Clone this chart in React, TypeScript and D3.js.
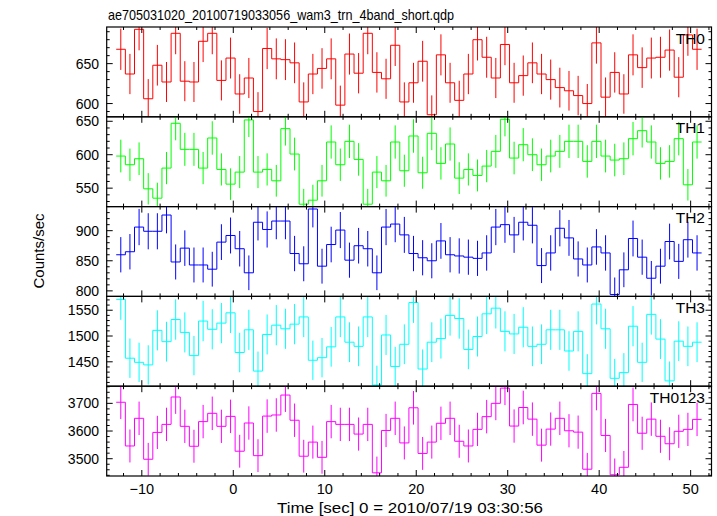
import React from "react";
import * as d3 from "d3";

const TITLE = "ae705031020_20100719033056_wam3_trn_4band_short.qdp";
const X_LABEL = "Time [sec] 0 = 2010/07/19 03:30:56";
const Y_LABEL = "Counts/sec";

const TIME_START = -12.8;
const BIN_WIDTH = 1;
const X_DOMAIN = [-13.84, 52.28];
const X_TICKS_MAJOR = [-10, 0, 10, 20, 30, 40, 50];

const BANDS = ["TH0", "TH1", "TH2", "TH3", "TH0123"];
const COLORS = ["#ff0000", "#00ff00", "#0000ff", "#00ffff", "#ff00ff"];

const TH0 = [668,637,693,606,648,627,688,628,627,678,688,629,657,612,632,590,669,656,655,651,602,637,644,656,598,662,638,688,639,631,673,602,
  626,653,586,661,626,604,637,680,658,632,674,626,635,651,637,630,620,616,610,600,676,608,639,612,661,645,657,658,667,633,686,668];
const TH1 = [598,585,594,549,535,580,647,608,608,580,625,578,556,574,652,574,578,561,639,601,526,532,561,619,585,620,593,526,574,561,619,576,
  628,573,632,587,616,565,578,569,583,605,653,595,615,600,585,598,605,620,620,590,620,598,592,594,624,636,619,587,590,624,555,619];
const TH2 = [860,865,906,899,899,926,848,871,843,843,836,881,892,870,830,914,902,916,916,862,845,936,841,877,901,851,875,870,830,906,911,893,
  862,855,850,883,860,858,856,854,863,906,910,893,914,909,842,863,904,888,853,843,873,863,794,835,887,856,821,841,882,849,885,863];
const TH3 = [1571,1457,1449,1444,1511,1489,1532,1507,1462,1529,1513,1525,1545,1468,1512,1432,1503,1521,1514,1523,1537,1453,1458,1479,1537,1488,1480,1537,1405,1502,1441,1484,
  1565,1436,1488,1495,1540,1534,1474,1499,1543,1554,1509,1504,1517,1480,1484,1512,1512,1471,1509,1427,1562,1514,1418,1429,1519,1449,1542,1494,1413,1490,1480,1488];
const TH0123 = [3704,3546,3646,3498,3595,3624,3723,3617,3545,3634,3664,3617,3653,3527,3629,3511,3654,3658,3730,3639,3509,3560,3505,3634,3624,3624,3589,3624,3449,3602,3646,3557,
  3684,3519,3560,3628,3646,3563,3546,3606,3652,3700,3755,3618,3685,3643,3549,3607,3646,3601,3596,3462,3736,3584,3442,3469,3696,3592,3643,3581,3554,3599,3606,3642];

const SERIES = [TH0, TH1, TH2, TH3, TH0123];
const Y_DOMAINS = [[583.4, 695.9], [522.4, 656.7], [790.8, 940], [1402.7, 1576.8], [3437.5, 3762]];
const Y_MAJOR_STEP = [50, 50, 50, 50, 100];
const Y_MINOR_STEP = [10, 10, 10, 10, 20];

const W = 717, H = 516;
const LEFT = 106.7, RIGHT = 711.5, TOP = 27, BOTTOM = 476;
const PANEL_H = (BOTTOM - TOP) / 5;
const FONT = "'Liberation Sans', Arial, Helvetica, sans-serif";

function range(a: number, b: number, step: number) {
  const out: number[] = [];
  const s = Math.ceil(a / step - 1e-9) * step;
  for (let v = s; v <= b + 1e-9; v += step) out.push(Math.round(v * 1000) / 1000);
  return out;
}

function Panel({ idx, x }: { idx: number; x: d3.ScaleLinear<number, number> }) {
  const top = TOP + idx * PANEL_H;
  const bot = top + PANEL_H;
  const y = d3.scaleLinear().domain(Y_DOMAINS[idx]).range([bot, top]);
  const data = SERIES[idx];
  const color = COLORS[idx];
  const pts: [number, number][] = [];
  data.forEach((v, i) => {
    const t0 = TIME_START + i * BIN_WIDTH;
    pts.push([x(t0), y(v)]);
    pts.push([x(t0 + BIN_WIDTH), y(v)]);
  });
  const stepPath = d3.line()(pts) || "";
  const clipId = `clip${idx}`;
  const [y0, y1] = Y_DOMAINS[idx];
  const yMaj = range(y0, y1, Y_MAJOR_STEP[idx]);
  const yMin = range(y0, y1, Y_MINOR_STEP[idx]).filter((v) => Math.abs(v % Y_MAJOR_STEP[idx]) > 1e-6);
  const xMaj = range(X_DOMAIN[0], X_DOMAIN[1], 10);
  const xMin = range(X_DOMAIN[0], X_DOMAIN[1], 2).filter((v) => Math.abs(v % 10) > 1e-6);
  const MAJ = 6, MIN = 3;
  return (
    <g>
      <defs>
        <clipPath id={clipId}>
          <rect x={LEFT} y={top} width={RIGHT - LEFT} height={PANEL_H} />
        </clipPath>
      </defs>
      <g clipPath={`url(#${clipId})`} fill="none" stroke={color} strokeWidth={1}>
        {data.map((v, i) => {
          const tc = TIME_START + (i + 0.5) * BIN_WIDTH;
          const e = Math.sqrt(v);
          return <line key={i} x1={x(tc)} x2={x(tc)} y1={y(v - e)} y2={y(v + e)} />;
        })}
        <path d={stepPath} />
      </g>
      <g stroke="#000" strokeWidth={1}>
        {xMaj.map((t) => (
          <g key={"xM" + t}>
            <line x1={x(t)} x2={x(t)} y1={bot} y2={bot - MAJ} />
            <line x1={x(t)} x2={x(t)} y1={top} y2={top + MAJ} />
          </g>
        ))}
        {xMin.map((t) => (
          <g key={"xm" + t}>
            <line x1={x(t)} x2={x(t)} y1={bot} y2={bot - MIN} />
            <line x1={x(t)} x2={x(t)} y1={top} y2={top + MIN} />
          </g>
        ))}
        {yMaj.map((v) => (
          <g key={"yM" + v}>
            <line x1={LEFT} x2={LEFT + MAJ} y1={y(v)} y2={y(v)} />
            <line x1={RIGHT} x2={RIGHT - MAJ} y1={y(v)} y2={y(v)} />
          </g>
        ))}
        {yMin.map((v) => (
          <g key={"ym" + v}>
            <line x1={LEFT} x2={LEFT + MIN} y1={y(v)} y2={y(v)} />
            <line x1={RIGHT} x2={RIGHT - MIN} y1={y(v)} y2={y(v)} />
          </g>
        ))}
        <rect x={LEFT} y={top} width={RIGHT - LEFT} height={PANEL_H} fill="none" strokeWidth={1.2} />
      </g>
      <g fontFamily={FONT} fontSize={14} fill="#000">
        {yMaj.map((v) => (
          <text key={"yl" + v} x={99} y={y(v)} dy="0.36em" textAnchor="end">{v}</text>
        ))}
      </g>
      <text x={705} y={top + 16.5} fontFamily={FONT} fontSize={15.5} textAnchor="end" fill="#000">
        {BANDS[idx]}
      </text>
    </g>
  );
}

export default function App() {
  const x = d3.scaleLinear().domain(X_DOMAIN).range([LEFT, RIGHT]);
  return (
    <svg width={W} height={H} style={{ display: "block", position: "absolute", left: 0, top: 0, background: "#fff" }}>
      <rect x={0} y={0} width={W} height={H} fill="#fff" />
      <text x={108} y={20} fontFamily={FONT} fontSize={15} fill="#000" textLength={346} lengthAdjust="spacingAndGlyphs">
        {TITLE}
      </text>
      {BANDS.map((b, i) => (
        <Panel key={b} idx={i} x={x} />
      ))}
      <g fontFamily={FONT} fontSize={14.5} fill="#000">
        {X_TICKS_MAJOR.map((t) => (
          <text key={t} x={x(t)} y={494} textAnchor="middle">{t < 0 ? "\u2212" + Math.abs(t) : t}</text>
        ))}
      </g>
      <text x={410} y={513} fontFamily={FONT} fontSize={15} textAnchor="middle" fill="#000" textLength={266} lengthAdjust="spacingAndGlyphs">
        {X_LABEL}
      </text>
      <text transform={`translate(44, 251) rotate(-90)`} fontFamily={FONT} fontSize={15} textAnchor="middle" fill="#000">
        {Y_LABEL}
      </text>
    </svg>
  );
}
